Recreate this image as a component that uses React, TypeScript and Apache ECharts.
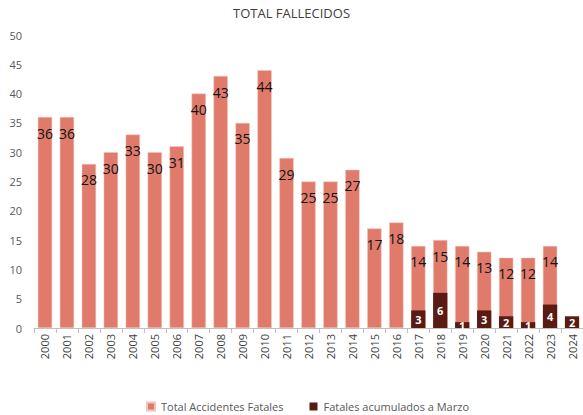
import React, { useEffect, useRef } from "react";
import * as echarts from "echarts";

const years = ["2000","2001","2002","2003","2004","2005","2006","2007","2008","2009","2010","2011","2012","2013","2014","2015","2016","2017","2018","2019","2020","2021","2022","2023","2024"];
const totalFatales = [36,36,28,30,33,30,31,40,43,35,44,29,25,25,27,17,18,14,15,14,13,12,12,14,null];
const fatalesMarzo = [null,null,null,null,null,null,null,null,null,null,null,null,null,null,null,null,null,3,6,1,3,2,1,4,2];
const seriesNames = ["Total Accidentes Fatales", "Fatales acumulados a Marzo"];

const FONT = "'Open Sans', 'Noto Sans', sans-serif";

export default function App() {
  const ref = useRef<HTMLDivElement>(null);
  useEffect(() => {
    const chart = echarts.init(ref.current!, null, { renderer: "svg" });
    chart.setOption({
      animation: false,
      title: {
        text: "TOTAL FALLECIDOS",
        left: "center",
        top: 1,
        textStyle: { fontFamily: FONT, fontSize: 13, fontWeight: "normal", color: "#404040" },
      },
      legend: {
        bottom: -2,
        left: 141,
        itemWidth: 8,
        itemHeight: 8,
        itemGap: 26,
        icon: "rect",
        textStyle: { fontFamily: FONT, fontSize: 11, color: "#595959", padding: [0, 0, 0, 1] },
        data: seriesNames,
      },
      grid: { left: 34, right: -2, top: 35, bottom: 87, containLabel: false },
      xAxis: {
        type: "category",
        data: years,
        axisLine: { lineStyle: { color: "#bfbfbf" } },
        axisTick: { show: true, alignWithLabel: false, lineStyle: { color: "#bfbfbf" } },
        axisLabel: { rotate: 90, fontFamily: FONT, fontSize: 11, color: "#404040", margin: 6 },
      },
      yAxis: {
        type: "value",
        min: 0,
        max: 50,
        interval: 5,
        splitLine: { show: false },
        axisLine: { show: false },
        axisTick: { show: false },
        axisLabel: { fontFamily: FONT, fontSize: 11, color: "#595959", margin: 12 },
      },
      series: [
        {
          name: seriesNames[0],
          type: "bar",
          data: totalFatales,
          barWidth: "65%",
          barGap: "-100%",
          itemStyle: { color: "#E07B6B", borderColor: "#f2c4bb", borderWidth: 0.5 },
          label: {
            show: true,
            position: "insideTop",
            distance: 9,
            fontFamily: FONT,
            fontSize: 14,
            color: "#111111",
          },
        },
        {
          name: seriesNames[1],
          type: "bar",
          data: fatalesMarzo,
          barWidth: "65%",
          barGap: "-100%",
          itemStyle: { color: "#5A1B12" },
          label: {
            show: true,
            position: "inside",
            fontFamily: FONT,
            fontSize: 11,
            fontWeight: "bold",
            color: "#ffffff",
          },
        },
      ],
    });
    return () => chart.dispose();
  }, []);
  return <div ref={ref} style={{ width: 583, height: 415, position: "absolute", left: 0, top: 0 }} />;
}
